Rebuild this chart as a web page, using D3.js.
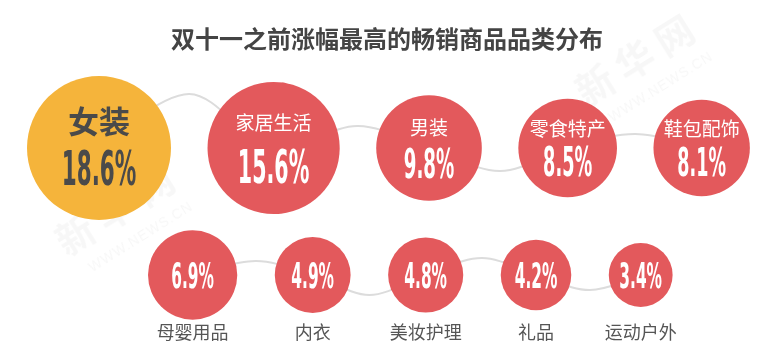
<!DOCTYPE html>
<html><head><meta charset="utf-8">
<script src="https://cdn.jsdelivr.net/npm/d3@7"></script>
<style>
html,body{margin:0;padding:0;background:#fff;}
svg{display:block;}
</style></head>
<body>
<svg id="chart" width="782" height="360"></svg>
<script>
// ---- data ----
const title = "双十一之前涨幅最高的畅销商品品类分布";
const categories = ["女装","家居生活","男装","零食特产","鞋包配饰","母婴用品","内衣","美妆护理","礼品","运动户外"];
const values = [18.6, 15.6, 9.8, 8.5, 8.1, 6.9, 4.9, 4.8, 4.2, 3.4];
const rowOf = [0, 0, 0, 0, 0, 1, 1, 1, 1, 1];

// ---- layout (not data) ----
const W = 782, H = 360;
const rows = [
  {startX: 27, cy: 148, gap: 36.5, bends: [-54, -22, 23, -14]},
  {startX: 148, cy: 275, gap: 37.5, bends: [-14, 20, -17, 15]}
];
const colorTop = "#F5B43B", colorRed = "#E3595C", darkText = "#4a4a4a";
const svg = d3.select("#chart");

const r = d3.scaleSqrt().domain([0, d3.max(values)]).range([2, 72]);

const nodes = categories.map((c, i) => ({name: c, value: values[i], row: rowOf[i], r: r(values[i]), i}));
rows.forEach((row, ri) => {
  let x = row.startX;
  nodes.filter(n => n.row === ri).forEach(n => {
    n.cx = x + n.r; n.cy = row.cy;
    x = n.cx + n.r + row.gap;
  });
});

// faint watermarks
const wm = svg.append("g").attr("fill", "#000").attr("opacity", 0.035);
[[122, 222], [642, 72]].forEach(([x, y]) => {
  const g = wm.append("g").attr("transform", `translate(${x},${y}) rotate(-32)`);
  g.append("text").text("新 华 网").attr("text-anchor", "middle")
    .attr("font-family", "Noto Sans CJK SC").attr("font-weight", "bold").attr("font-size", 38).attr("y", 0);
  g.append("text").text("WWW.NEWS.CN").attr("text-anchor", "middle")
    .attr("font-family", "Liberation Sans").attr("font-size", 14).attr("x", 8).attr("y", 27).attr("letter-spacing", 1);
});

// connecting wavy line per row
const line = d3.line().x(d => d[0]).y(d => d[1]).curve(d3.curveCatmullRom.alpha(0.5));
rows.forEach((row, ri) => {
  const rn = nodes.filter(n => n.row === ri);
  const pts = [];
  rn.forEach((n, k) => {
    pts.push([n.cx, n.cy]);
    if (k < rn.length - 1) {
      const m = rn[k + 1];
      pts.push([(n.cx + n.r + m.cx - m.r) / 2, row.cy + row.bends[k]]);
    }
  });
  svg.append("path").attr("d", line(pts)).attr("fill", "none")
    .attr("stroke", "#dcdcdc").attr("stroke-width", 2);
});

// circles
svg.append("g").selectAll("circle").data(nodes).join("circle")
  .attr("cx", d => d.cx).attr("cy", d => d.cy).attr("r", d => d.r)
  .attr("fill", d => d.i === 0 ? colorTop : colorRed);

// title
svg.append("text").text(title).attr("x", 387).attr("y", 48)
  .attr("text-anchor", "middle").attr("font-family", "Noto Sans CJK SC")
  .attr("font-weight", "bold").attr("font-size", 24).attr("fill", "#444");

const fmt = v => d3.format(".1f")(v) + "%";
const valueFont = "'Liberation Sans Narrow','DejaVu Sans Condensed','Liberation Sans',sans-serif";

nodes.forEach(n => {
  const g = svg.append("g");
  const isTop = n.row === 0;
  const fill = n.i === 0 ? darkText : "#fff";
  let vSize, vCenter;
  if (isTop) {
    vSize = 24 + n.r * 0.33;
    vCenter = n.cy + n.r * 0.28;
    const lSize = n.i === 0 ? 31 : 19;
    const lCenter = n.cy - n.r * 0.36 - (n.i === 0 ? 0 : 1);
    g.append("text").text(n.name).attr("x", n.cx).attr("y", lCenter + lSize * 0.36)
      .attr("text-anchor", "middle").attr("font-family", "Noto Sans CJK SC")
      .attr("font-weight", n.i === 0 ? "bold" : "normal")
      .attr("font-size", lSize).attr("fill", fill);
  } else {
    vSize = 35;
    vCenter = n.cy;
    g.append("text").text(n.name).attr("x", n.cx).attr("y", 339)
      .attr("text-anchor", "middle").attr("font-family", "Noto Sans CJK SC")
      .attr("font-size", 18).attr("fill", "#555");
  }
  const label = fmt(n.value);
  const t = g.append("text").text(label)
    .attr("text-anchor", "middle").attr("font-family", valueFont)
    .attr("font-weight", "bold").attr("font-size", vSize).attr("fill", fill);
  const nd = label.replace(/[^0-9]/g, "").length;
  const target = vSize * (0.34 * nd + 0.54);
  const natural = t.node().getComputedTextLength() || target;
  const sx = target / natural;
  t.attr("transform", `translate(${n.cx},${vCenter + vSize * 0.36}) scale(${sx},1)`);
});
</script>
</body></html>
